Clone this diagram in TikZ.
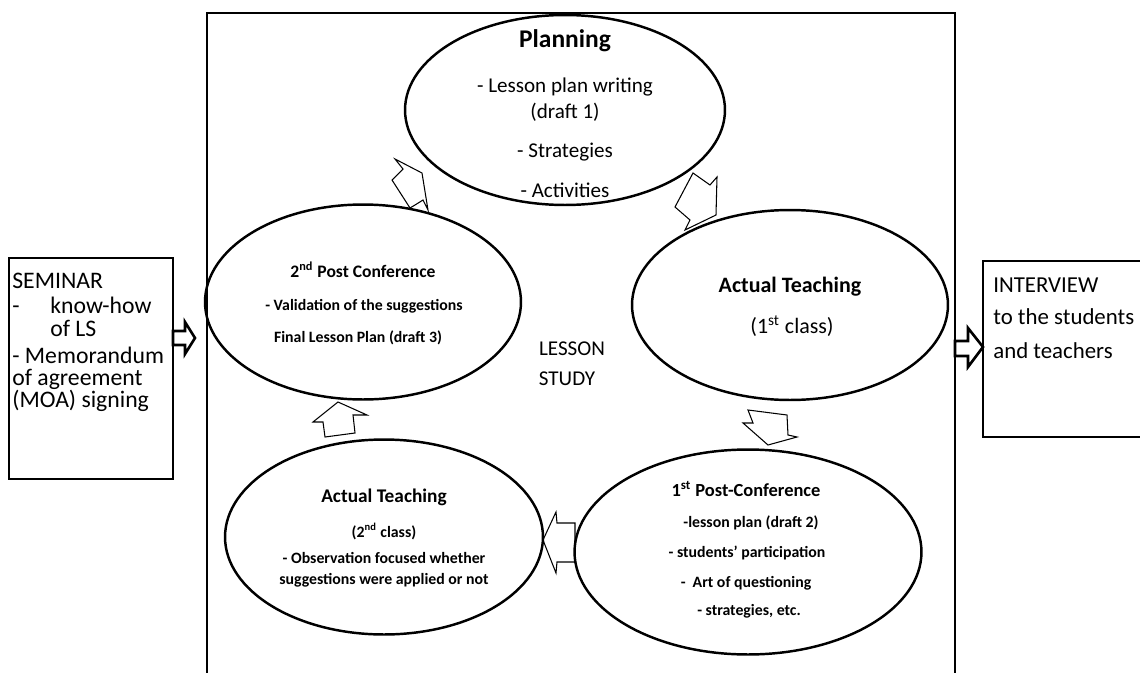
\documentclass[tikz,border=0pt]{standalone}
\usepackage{fontspec}
\setmainfont{Carlito}
\usetikzlibrary{shapes.geometric}
\newcommand\myfs[1]{\fontsize{#1}{#1}\selectfont}
\begin{document}
\begin{tikzpicture}[x=0.02cm,y=-0.02cm,
  oval/.style={draw, ellipse, line width=1.4pt, inner sep=0},
  lbl/.style={inner sep=0, anchor=base},
  lbll/.style={inner sep=0, anchor=base west},
  frame/.style={line width=1.1pt},
  sbox/.style={line width=0.9pt},
  barrow/.style={line width=0.6pt, line join=miter},
  barrowthick/.style={line width=1.5pt, line join=miter}]
\useasboundingbox (0,0) rectangle (1140,673);

% frames
\draw[frame] (207,673) -- (207,13) -- (955,13) -- (955,673);
\draw[sbox] (9,258) rectangle (173,479);
\draw[sbox] (1140,261) -- (983,261) -- (983,437) -- (1140,437);

% ellipses
\node[oval, minimum width=6.4cm, minimum height=3.8cm] (plan) at (565,110) {};
\node[oval, minimum width=6.32cm, minimum height=3.9cm] (post2) at (363,302) {};
\node[oval, minimum width=6.32cm, minimum height=3.8cm] (act1) at (790,305) {};
\node[oval, minimum width=6.36cm, minimum height=3.9cm] (act2) at (384,537) {};
\node[oval, minimum width=6.94cm, minimum height=4.1cm] (post1) at (748,552) {};

% Planning
\node[lbl] (planA) at (565,47) {\myfs{14.5}\bfseries Planning};
\node[lbl] (planB) at (565,92) {\myfs{12}- Lesson plan writing};
\node[lbl] (planC) at (565,118) {\myfs{12}(draft 1)};
\node[lbl] (planD) at (565,157) {\myfs{12}- Strategies};
\node[lbl] (planE) at (565,197) {\myfs{12}- Activities};

% 2nd post conference
\node[lbl] (p2A) at (363,277) {\myfs{10}\bfseries 2\textsuperscript{nd} Post Conference};
\node[lbl] (p2B) at (364,310) {\myfs{9}\bfseries - Validation of the suggestions};
\node[lbl] (p2C) at (358,342) {\myfs{9}\bfseries Final Lesson Plan (draft 3)};

% actual teaching 1
\node[lbl] (a1A) at (790,292) {\myfs{12.5}\bfseries Actual Teaching};
\node[lbl] (a1B) at (792,333) {\myfs{12.5}(1\textsuperscript{st} class)};

% actual teaching 2
\node[lbl] (a2A) at (384,502) {\myfs{11}\bfseries Actual Teaching};
\node[lbl] (a2B) at (384,537) {\myfs{9}\bfseries (2\textsuperscript{nd} class)};
\node[lbl] (a2C) at (384,563) {\myfs{9}\bfseries - Observation focused whether};
\node[lbl] (a2D) at (384,584) {\myfs{9}\bfseries suggestions were applied or not};

% 1st post conference
\node[lbl] (p1A) at (746,496) {\myfs{10.5}\bfseries 1\textsuperscript{st} Post-Conference};
\node[lbl] (p1B) at (751,527) {\myfs{9}\bfseries -lesson plan (draft 2)};
\node[lbl] (p1C) at (747,557) {\myfs{9}\bfseries - students’ participation};
\node[lbl] (p1D) at (746,587) {\myfs{9}\bfseries -\ \ Art of questioning};
\node[lbl] (p1E) at (749,615) {\myfs{9}\bfseries - strategies, etc.};

% lesson study
\node[lbl] (ls1) at (572,355) {\myfs{12}LESSON};
\node[lbl] (ls2) at (567,385) {\myfs{12}STUDY};

% seminar
\node[lbll] (s1) at (12,288) {\myfs{13.5}SEMINAR};
\node[lbll] (s2a) at (12,313) {\myfs{13.5}-};
\node[lbll] (s2b) at (50,313) {\myfs{13.5}know-how};
\node[lbll] (s3) at (50,336) {\myfs{13.5}of LS};
\node[lbll] (s4) at (12,363) {\myfs{13.5}- Memorandum};
\node[lbll] (s5) at (12,385) {\myfs{13.5}of agreement};
\node[lbll] (s6) at (12,407) {\myfs{13.5}(MOA) signing};

% interview
\node[lbll] (i1) at (993,292) {\myfs{13}INTERVIEW};
\node[lbll] (i2) at (993,324) {\myfs{13}to the students};
\node[lbll] (i3) at (993,358) {\myfs{13}and teachers};

% block arrows
\draw[barrowthick] (173,331) -- (185,331) -- (185,322) -- (195,338) -- (185,354) -- (185,345) -- (173,345) -- cycle;
\draw[barrowthick] (955,341) -- (968,341) -- (968,328) -- (983,347) -- (968,367) -- (968,356) -- (955,356) -- cycle;
\draw[barrow] (395,159) -- (422,173) -- (428,210) -- (423,200) -- (415,205) -- (410,208) -- (392,180) -- (403,169) -- cycle;
\draw[barrow] (693,173) -- (710,185) -- (717,177) -- (716,215) -- (685,230) -- (690,220) -- (675,207) -- cycle;
\draw[barrow] (748,410) -- (787,415) -- (788,435) -- (797,437) -- (768,445) -- (743,423) -- (753,423) -- cycle;
\draw[barrow] (575,523) -- (557,523) -- (556,512) -- (543,540) -- (556,573) -- (557,562) -- (575,562) -- cycle;
\draw[barrow] (338,402) -- (367,415) -- (353,415) -- (355,433) -- (325,437) -- (323,422) -- (313,422) -- cycle;
\end{tikzpicture}
\end{document}
